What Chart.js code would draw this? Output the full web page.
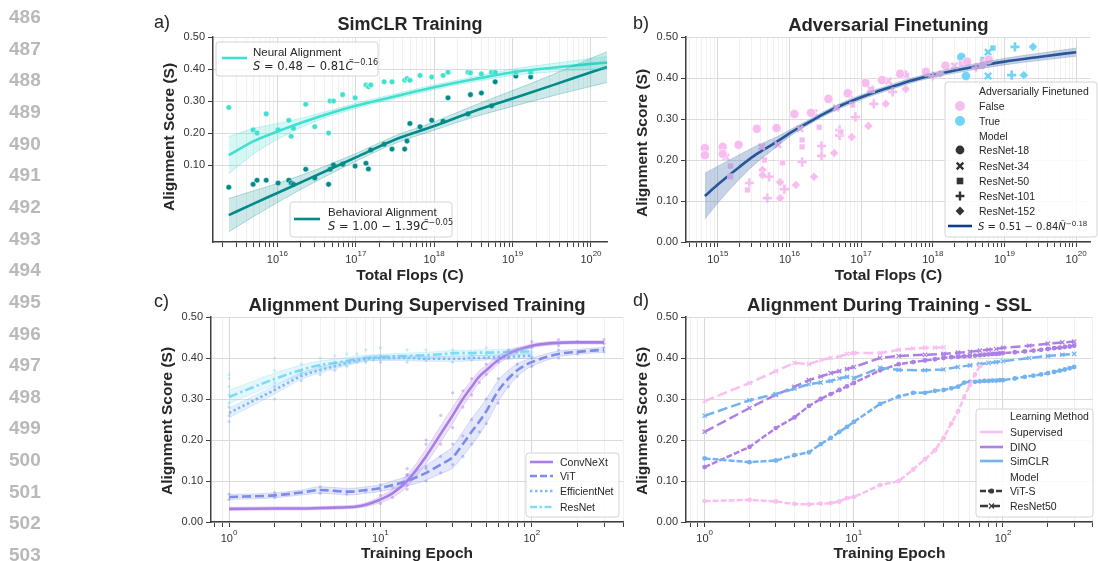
<!DOCTYPE html>
<html>
<head>
<meta charset="utf-8">
<script src="https://cdn.jsdelivr.net/npm/chart.js@4.4.1/dist/chart.umd.min.js"></script>
<style>
html, body { margin: 0; padding: 0; background: #fff; }
#page { position: relative; width: 1098px; height: 561px; overflow: hidden; }
#page canvas { position: absolute; left: 0; top: 0; }
.ln { position: absolute; left: 9px; font: bold 19px "Liberation Sans", Arial, sans-serif; color: #b9b9b9; line-height: 20px; }
</style>
</head>
<body>
<div id="page">
  <canvas id="chartA" width="1098" height="561"></canvas>
  <canvas id="chartB" width="1098" height="561"></canvas>
  <canvas id="chartC" width="1098" height="561"></canvas>
  <canvas id="chartD" width="1098" height="561"></canvas>
</div>
<script>
// ---------- a) SimCLR training: one point per model ----------
const simclrFlops = [2.4e15, 4.9e15, 5.5e15, 7.2e15, 1.02e16, 1.4e16, 1.5e16, 1.6e16, 2.3e16, 3.0e16, 4.5e16, 4.7e16, 5.2e16, 6.8e16, 9.8e16, 1.35e17, 1.45e17, 1.55e17, 2.3e17, 2.9e17, 4.2e17, 4.5e17, 4.9e17, 6.6e17, 9.3e17, 1.3e18, 1.5e18, 2.7e18, 2.9e18, 4.0e18, 5.4e18, 6.0e18, 1.1e19, 1.7e19];
const neuralScore = [0.28, 0.21, 0.20, 0.26, 0.21, 0.24, 0.19, 0.215, 0.29, 0.22, 0.20, 0.30, 0.30, 0.32, 0.31, 0.35, 0.345, 0.35, 0.36, 0.36, 0.365, 0.37, 0.365, 0.38, 0.375, 0.38, 0.39, 0.39, 0.388, 0.385, 0.39, 0.39, 0.39, 0.39];
const behavioralScore = [0.031, 0.04, 0.053, 0.053, 0.044, 0.053, 0.044, 0.04, 0.087, 0.06, 0.04, 0.087, 0.10, 0.103, 0.097, 0.106, 0.088, 0.147, 0.165, 0.15, 0.15, 0.175, 0.23, 0.22, 0.24, 0.237, 0.31, 0.26, 0.32, 0.325, 0.285, 0.36, 0.378, 0.375];
const fitFlopsA = [2.4e15, 5e15, 1e16, 2.5e16, 1e17, 3.2e17, 1e18, 3.2e18, 1e19, 3.2e19, 1e20, 1.6e20];
const neuralFit = [0.131, 0.175, 0.205, 0.24, 0.285, 0.315, 0.343, 0.368, 0.39, 0.404, 0.416, 0.42];
const neuralBand = [0.058, 0.04, 0.025, 0.012, 0.008, 0.008, 0.008, 0.008, 0.01, 0.013, 0.017, 0.019];
const behavioralFit = [-0.056, -0.02, 0.013, 0.057, 0.124, 0.18, 0.222, 0.268, 0.308, 0.349, 0.39, 0.406];
const behavioralBand = [0.052, 0.04, 0.03, 0.02, 0.012, 0.012, 0.013, 0.018, 0.025, 0.033, 0.044, 0.048];
const scoreTicksA = [0.1, 0.2, 0.3, 0.4, 0.5];
const powersA = [16, 17, 18, 19, 20];

// ---------- b) adversarial finetuning: [flops, score] per model ----------
const advModels = ['ResNet-18', 'ResNet-34', 'ResNet-50', 'ResNet-101', 'ResNet-152'];
const r18Plain = [[6.6e14, 0.229], [6.6e14, 0.212], [1.17e15, 0.232], [1.17e15, 0.215], [1.95e15, 0.237], [3.5e15, 0.276], [6.6e15, 0.278], [1.17e16, 0.312], [2.0e16, 0.315], [3.5e16, 0.349], [6.5e16, 0.363], [1.15e17, 0.388], [1.95e17, 0.395], [3.5e17, 0.41], [8e17, 0.415], [1.5e18, 0.43], [3e18, 0.44], [6e18, 0.445]];
const r34Plain = [[1.3e15, 0.207], [4.1e15, 0.232], [6.9e15, 0.237], [1.4e16, 0.276], [2.2e16, 0.315], [4.5e16, 0.327], [6.8e16, 0.361], [1.35e17, 0.373], [2.4e17, 0.393], [3.9e17, 0.41], [2e18, 0.43], [5e18, 0.44]];
const r50Plain = [[1.5e15, 0.185], [1.5e15, 0.159], [2.6e15, 0.127], [4.5e15, 0.20], [8e15, 0.193], [1.5e16, 0.249], [1.5e16, 0.232], [2.6e16, 0.28], [5.2e16, 0.268], [7.6e16, 0.334], [1.4e17, 0.371], [4.3e17, 0.407], [2.5e18, 0.435]];
const r101Plain = [[2.75e15, 0.144], [5.2e15, 0.159], [4.9e15, 0.107], [8.5e15, 0.129], [1.5e16, 0.195], [2.8e16, 0.234], [2.8e16, 0.21], [5e16, 0.273], [5e16, 0.26], [8.3e16, 0.305], [1.5e17, 0.337], [2.75e17, 0.366], [1e18, 0.405], [4e18, 0.425]];
const r152Plain = [[4.2e15, 0.176], [4.2e15, 0.163], [7.4e15, 0.146], [7.4e15, 0.107], [1.23e16, 0.139], [2.2e16, 0.159], [4.2e16, 0.217], [7.4e16, 0.256], [1.26e17, 0.283], [2.2e17, 0.337], [4.2e17, 0.373], [1.26e18, 0.41], [5e18, 0.43]];
const r18Adv = [[2.9e18, 0.405], [2.5e18, 0.451]];
const r34Adv = [[5.9e18, 0.405], [5.9e18, 0.463]];
const r50Adv = [[6.9e18, 0.473], [5e18, 0.445]];
const r101Adv = [[1.26e19, 0.407], [1.4e19, 0.476]];
const r152Adv = [[1.86e19, 0.407], [2.5e19, 0.476]];
const fitFlopsB = [6.6e14, 1e15, 2e15, 3.2e15, 6.6e15, 1e16, 1.9e16, 3.2e16, 5.4e16, 1e17, 1.6e17, 3.2e17, 4.6e17, 1e18, 3.2e18, 1e19, 3.2e19, 1e20];
const advFit = [0.112, 0.14, 0.183, 0.21, 0.244, 0.265, 0.293, 0.315, 0.334, 0.353, 0.366, 0.383, 0.392, 0.407, 0.425, 0.44, 0.452, 0.463];
const advBand = [0.056, 0.045, 0.03, 0.022, 0.012, 0.008, 0.006, 0.006, 0.006, 0.006, 0.006, 0.006, 0.006, 0.006, 0.007, 0.008, 0.009, 0.01];
const scoreTicks = [0, 0.1, 0.2, 0.3, 0.4, 0.5];
const powersB = [15, 16, 17, 18, 19, 20];

// ---------- c) supervised training curves ----------
const epochsC = [1, 2, 3, 4, 5, 6, 7, 8, 9, 10, 12, 15, 20, 25, 30, 35, 40, 45, 50, 60, 70, 80, 90, 100, 150, 200, 250, 300];
const epochsC100 = [1, 2, 3, 4, 5, 6, 7, 8, 9, 10, 12, 15, 20, 25, 30, 35, 40, 45, 50, 60, 70, 80, 90, 100];
const convnextMean = [0.032, 0.033, 0.033, 0.034, 0.035, 0.036, 0.038, 0.042, 0.048, 0.055, 0.07, 0.10, 0.16, 0.215, 0.26, 0.30, 0.33, 0.355, 0.37, 0.395, 0.41, 0.42, 0.425, 0.43, 0.437, 0.438, 0.438, 0.438];
const convnextBand = [0.004, 0.004, 0.004, 0.004, 0.004, 0.004, 0.004, 0.005, 0.006, 0.008, 0.01, 0.014, 0.018, 0.02, 0.02, 0.018, 0.016, 0.014, 0.012, 0.01, 0.008, 0.006, 0.005, 0.005, 0.004, 0.004, 0.004, 0.004];
const vitMean = [0.061, 0.065, 0.072, 0.078, 0.076, 0.074, 0.075, 0.078, 0.08, 0.083, 0.09, 0.10, 0.12, 0.14, 0.158, 0.19, 0.22, 0.245, 0.27, 0.32, 0.35, 0.37, 0.382, 0.39, 0.41, 0.415, 0.418, 0.42];
const vitBand = [0.006, 0.006, 0.006, 0.008, 0.008, 0.008, 0.008, 0.008, 0.008, 0.008, 0.01, 0.012, 0.018, 0.022, 0.026, 0.03, 0.032, 0.032, 0.03, 0.026, 0.02, 0.016, 0.012, 0.01, 0.007, 0.006, 0.006, 0.006];
const effnetMean = [0.266, 0.322, 0.356, 0.371, 0.38, 0.388, 0.394, 0.398, 0.40, 0.40, 0.40, 0.40, 0.398, 0.398, 0.398, 0.398, 0.40, 0.40, 0.401, 0.402, 0.403, 0.404, 0.405, 0.406];
const effnetBand = [0.012, 0.01, 0.008, 0.007, 0.007, 0.006, 0.006, 0.006, 0.006, 0.006, 0.006, 0.006, 0.006, 0.006, 0.006, 0.006, 0.006, 0.006, 0.006, 0.006, 0.006, 0.006, 0.006, 0.006];
const resnetMean = [0.305, 0.349, 0.371, 0.383, 0.388, 0.393, 0.397, 0.40, 0.401, 0.402, 0.404, 0.405, 0.407, 0.409, 0.412, 0.412, 0.412, 0.413, 0.413, 0.414, 0.415, 0.415, 0.416, 0.416];
const resnetBand = [0.016, 0.014, 0.012, 0.01, 0.009, 0.008, 0.008, 0.007, 0.007, 0.007, 0.007, 0.007, 0.007, 0.007, 0.007, 0.007, 0.007, 0.007, 0.007, 0.007, 0.007, 0.007, 0.007, 0.007];
// individual runs, [epoch, score]
const convnextRuns = [[10, 0.045], [10, 0.065], [12, 0.06], [12, 0.085], [15, 0.08], [15, 0.115], [15, 0.13], [20, 0.13], [20, 0.19], [20, 0.2], [25, 0.19], [25, 0.26], [30, 0.23], [30, 0.315], [35, 0.28], [35, 0.32], [40, 0.31], [40, 0.35], [45, 0.34], [50, 0.36], [50, 0.385], [60, 0.39], [70, 0.4], [70, 0.42], [80, 0.415], [100, 0.425], [100, 0.44], [150, 0.43], [150, 0.445], [200, 0.44], [300, 0.435], [300, 0.445]];
const vitRuns = [[1, 0.055], [1, 0.068], [2, 0.06], [2, 0.072], [4, 0.07], [4, 0.086], [6, 0.068], [8, 0.075], [10, 0.078], [10, 0.09], [15, 0.09], [15, 0.115], [20, 0.1], [20, 0.135], [25, 0.12], [25, 0.16], [30, 0.14], [30, 0.19], [35, 0.16], [35, 0.21], [40, 0.19], [40, 0.25], [45, 0.22], [50, 0.24], [50, 0.3], [60, 0.29], [60, 0.35], [70, 0.33], [80, 0.355], [80, 0.385], [100, 0.38], [100, 0.4], [150, 0.4], [150, 0.42], [200, 0.41], [300, 0.415], [300, 0.425]];
const effnetRuns = [[1, 0.245], [1, 0.26], [1, 0.28], [2, 0.30], [2, 0.33], [3, 0.345], [3, 0.365], [4, 0.36], [4, 0.38], [5, 0.37], [5, 0.39], [6, 0.38], [7, 0.39], [8, 0.39], [9, 0.395], [10, 0.39], [10, 0.405], [15, 0.39], [20, 0.395], [30, 0.39], [40, 0.395], [50, 0.4], [70, 0.4], [100, 0.405]];
const resnetRuns = [[1, 0.29], [1, 0.31], [1, 0.33], [1, 0.35], [1, 0.36], [2, 0.34], [2, 0.37], [2, 0.4], [3, 0.36], [3, 0.385], [4, 0.37], [4, 0.4], [5, 0.38], [5, 0.405], [6, 0.39], [6, 0.41], [7, 0.395], [7, 0.41], [8, 0.395], [8, 0.42], [9, 0.40], [10, 0.40], [10, 0.425], [15, 0.40], [15, 0.42], [20, 0.4], [20, 0.42], [30, 0.41], [30, 0.42], [40, 0.405], [50, 0.41], [50, 0.425], [70, 0.41], [100, 0.415]];
const powersEpoch = [0, 1, 2];

// ---------- d) self-supervised vs supervised ----------
const epochsR50 = [1, 2, 3, 4, 5, 6, 7, 8, 9, 10, 15, 20, 30, 40, 50, 60, 70, 80, 90, 100, 150, 200, 250, 300];
const epochsSupR50 = [1, 2, 3, 4, 5, 6, 7, 8, 9, 10, 15, 20, 25, 30, 35, 40];
const epochsVit = [1, 2, 3, 4, 5, 6, 7, 8, 9, 10, 15, 20, 25, 30, 35, 40, 45, 50, 55, 60, 65, 70, 75, 80, 85, 90, 95, 100, 120, 140, 160, 180, 200, 220, 240, 260, 280, 300];
const epochsSupVit = [1, 2, 3, 4, 5, 6, 7, 8, 9, 10, 15, 20, 25, 30, 35, 40, 45, 50, 55, 60, 65, 70];
const supervisedR50 = [0.295, 0.339, 0.368, 0.388, 0.385, 0.395, 0.40, 0.403, 0.41, 0.412, 0.412, 0.42, 0.423, 0.425, 0.425, 0.426];
const dinoR50 = [0.22, 0.278, 0.31, 0.33, 0.346, 0.355, 0.363, 0.368, 0.373, 0.378, 0.40, 0.405, 0.408, 0.41, 0.413, 0.415, 0.418, 0.42, 0.422, 0.425, 0.43, 0.435, 0.438, 0.44];
const simclrR50 = [0.259, 0.297, 0.312, 0.325, 0.336, 0.34, 0.344, 0.35, 0.354, 0.351, 0.376, 0.371, 0.37, 0.372, 0.378, 0.382, 0.385, 0.388, 0.39, 0.392, 0.40, 0.405, 0.408, 0.41];
const supervisedVit = [0.051, 0.054, 0.05, 0.044, 0.043, 0.045, 0.046, 0.05, 0.058, 0.061, 0.09, 0.10, 0.128, 0.153, 0.175, 0.205, 0.24, 0.27, 0.305, 0.334, 0.36, 0.38];
const dinoVit = [0.134, 0.183, 0.229, 0.255, 0.283, 0.30, 0.312, 0.322, 0.331, 0.339, 0.37, 0.385, 0.39, 0.394, 0.397, 0.40, 0.402, 0.403, 0.404, 0.405, 0.406, 0.407, 0.408, 0.409, 0.41, 0.41, 0.411, 0.412, 0.414, 0.416, 0.418, 0.42, 0.422, 0.424, 0.425, 0.427, 0.428, 0.43];
const simclrVit = [0.155, 0.146, 0.15, 0.163, 0.17, 0.19, 0.205, 0.22, 0.232, 0.244, 0.288, 0.306, 0.315, 0.315, 0.32, 0.322, 0.326, 0.33, 0.34, 0.342, 0.342, 0.343, 0.344, 0.344, 0.345, 0.345, 0.346, 0.346, 0.35, 0.354, 0.357, 0.36, 0.363, 0.366, 0.369, 0.372, 0.375, 0.378];

// ---------- styling ----------
const FONT = '"Liberation Sans", Arial, sans-serif';
const MATH = '"DejaVu Sans", sans-serif';
const INK = '#262626';
const TICK_INK = '#333';
const SPINE = '#3d3d3d';
const NEURAL = '#40e0d0';
const BEHAV = '#008b8b';
const PINK = '#f8bdef';
const SKY = '#6fd4f6';
const NAVY = '#0f3f8c';
const C_CONVNEXT = '#a87ee6';
const C_VIT = '#7b8ceb';
const C_EFF = '#80b9f8';
const C_RESNET = '#7edcf5';
const C_SUP = '#f9bfee';
const C_DINO = '#ad80e6';
const C_SIMCLR = '#73b3f1';

const xy = (xs, ys) => xs.map((x, i) => ({ x, y: ys[i] }));
const pts = arr => arr.map(([x, y]) => ({ x, y }));
const shifted = (xs, ys, hw, sign) => xs.map((x, i) => ({ x, y: ys[i] + sign * hw[i] }));

function alpha(hex, a) {
  const n = parseInt(hex.slice(1), 16);
  return `rgba(${n >> 16}, ${(n >> 8) & 255}, ${n & 255}, ${a})`;
}

function bandSets(xs, ys, hw, color, a) {
  const common = { borderColor: alpha(color, 0.35), borderWidth: 0.8, pointRadius: 0, cubicInterpolationMode: 'monotone' };
  return [
    { ...common, data: shifted(xs, ys, hw, -1), fill: false },
    { ...common, data: shifted(xs, ys, hw, 1), fill: '-1', backgroundColor: alpha(color, a) }
  ];
}

function logTicks(scale) {
  const ticks = [];
  const lo = Math.floor(Math.log10(scale.min));
  const hi = Math.ceil(Math.log10(scale.max));
  for (let e = lo; e <= hi; e++) {
    for (let m = 1; m < 10; m++) {
      const v = m * Math.pow(10, e);
      if (v >= scale.min && v <= scale.max) ticks.push({ value: v, major: m === 1 });
    }
  }
  scale.ticks = ticks;
}

function logAxis(min, max) {
  return {
    type: 'logarithmic', min, max,
    afterBuildTicks: logTicks,
    afterFit: s => { s.height = 30; s.paddingLeft = 0; s.paddingRight = 0; },
    ticks: { callback: () => '', autoSkip: false, maxRotation: 0 },
    grid: {
      color: c => (c.tick && c.tick.major ? '#d9d9d9' : '#eeeeee'),
      lineWidth: c => (c.tick && c.tick.major ? 1 : 0.8),
      tickColor: SPINE, tickLength: 5, tickWidth: 1
    },
    border: { color: SPINE, width: 1.5 }
  };
}

function scoreAxis(min, max, values) {
  return {
    type: 'linear', min, max,
    afterBuildTicks: s => { s.ticks = values.map(v => ({ value: v })); },
    afterFit: s => { s.width = 40; s.paddingTop = 0; s.paddingBottom = 0; },
    ticks: { callback: v => v.toFixed(2), color: TICK_INK, font: { family: FONT, size: 11 }, padding: 3 },
    grid: { color: '#dcdcdc', tickColor: SPINE, tickLength: 5 },
    border: { color: SPINE, width: 1.5 }
  };
}

function baseOptions(padding, x, y) {
  return {
    responsive: false, animation: false, devicePixelRatio: 1,
    layout: { padding },
    plugins: { legend: { display: false }, tooltip: { enabled: false } },
    elements: { point: { radius: 0 }, line: { tension: 0 } },
    scales: { x, y }
  };
}

// ---------- canvas text helpers ----------
function say(ctx, str, x, y, font, align, color) {
  ctx.font = font;
  ctx.fillStyle = color || INK;
  ctx.textAlign = align || 'left';
  ctx.textBaseline = 'alphabetic';
  ctx.fillText(str, x, y);
}

function yTitle(ctx, x, y, size) {
  ctx.save();
  ctx.translate(x, y);
  ctx.rotate(-Math.PI / 2);
  ctx.font = `bold ${size}px ${FONT}`;
  ctx.fillStyle = INK;
  ctx.textAlign = 'center';
  ctx.textBaseline = 'middle';
  ctx.fillText('Alignment Score (S)', 0, 0);
  ctx.restore();
}

function powerLabels(ctx, scale, powers, baseline) {
  powers.forEach(p => {
    const x = scale.getPixelForValue(Math.pow(10, p));
    ctx.font = `11px ${FONT}`;
    const w1 = ctx.measureText('10').width;
    ctx.font = `8px ${FONT}`;
    const w2 = ctx.measureText(String(p)).width;
    const left = x - (w1 + w2) / 2;
    say(ctx, '10', left, baseline, `11px ${FONT}`, 'left', TICK_INK);
    say(ctx, String(p), left + w1, baseline - 7, `8px ${FONT}`, 'left', TICK_INK);
  });
}

function mathLine(ctx, x, y, size, parts) {
  let cx = x;
  ctx.fillStyle = INK;
  ctx.textAlign = 'left';
  ctx.textBaseline = 'alphabetic';
  parts.forEach(([t, kind]) => {
    ctx.font = kind === 'i' ? `italic ${size}px ${MATH}` : kind === 's' ? `${size * 0.7}px ${MATH}` : `${size}px ${MATH}`;
    ctx.fillText(t, cx, kind === 's' ? y - size * 0.45 : y);
    cx += ctx.measureText(t).width;
  });
}

function legendBox(ctx, x, y, w, h) {
  ctx.save();
  ctx.beginPath();
  ctx.roundRect(x, y, w, h, 3);
  ctx.fillStyle = 'rgba(255,255,255,0.85)';
  ctx.fill();
  ctx.strokeStyle = '#d4d4d4';
  ctx.lineWidth = 1;
  ctx.stroke();
  ctx.restore();
}

function sampleLine(ctx, x1, x2, y, color, width, dash) {
  ctx.save();
  ctx.strokeStyle = color;
  ctx.lineWidth = width;
  ctx.setLineDash(dash || []);
  ctx.beginPath();
  ctx.moveTo(x1, y);
  ctx.lineTo(x2, y);
  ctx.stroke();
  ctx.restore();
}

function marker(ctx, style, x, y, r, color) {
  ctx.save();
  ctx.fillStyle = color;
  ctx.strokeStyle = color;
  ctx.lineWidth = 2.4;
  ctx.beginPath();
  if (style === 'circle') {
    ctx.arc(x, y, r, 0, Math.PI * 2);
    ctx.fill();
  } else if (style === 'rect') {
    ctx.fillRect(x - r * 0.75, y - r * 0.75, r * 1.5, r * 1.5);
  } else if (style === 'rectRot') {
    ctx.moveTo(x, y - r); ctx.lineTo(x + r, y); ctx.lineTo(x, y + r); ctx.lineTo(x - r, y);
    ctx.closePath();
    ctx.fill();
  } else if (style === 'cross') {
    ctx.moveTo(x - r, y); ctx.lineTo(x + r, y); ctx.moveTo(x, y - r); ctx.lineTo(x, y + r);
    ctx.stroke();
  } else if (style === 'crossRot') {
    const d = r * 0.75;
    ctx.moveTo(x - d, y - d); ctx.lineTo(x + d, y + d); ctx.moveTo(x + d, y - d); ctx.lineTo(x - d, y + d);
    ctx.stroke();
  }
  ctx.restore();
}

function centerX(chart) {
  return (chart.chartArea.left + chart.chartArea.right) / 2;
}

const fitLine = (xs, ys, color) => ({ data: xy(xs, ys), borderColor: color, borderWidth: 2.6, pointRadius: 0, cubicInterpolationMode: 'monotone' });

// ---------- a) ----------
new Chart(document.getElementById('chartA'), {
  type: 'line',
  data: {
    datasets: [
      ...bandSets(fitFlopsA, neuralFit, neuralBand, NEURAL, 0.22),
      ...bandSets(fitFlopsA, behavioralFit, behavioralBand, BEHAV, 0.2),
      fitLine(fitFlopsA, neuralFit, NEURAL),
      fitLine(fitFlopsA, behavioralFit, BEHAV),
      { data: xy(simclrFlops, neuralScore), showLine: false, pointRadius: 2.8, pointBackgroundColor: NEURAL, pointBorderColor: '#fff', pointBorderWidth: 0.5 },
      { data: xy(simclrFlops, behavioralScore), showLine: false, pointRadius: 2.8, pointBackgroundColor: BEHAV, pointBorderColor: '#fff', pointBorderWidth: 0.5 }
    ]
  },
  options: baseOptions({ left: 173, right: 491, top: 37, bottom: 289 }, logAxis(1.51e15, 1.6e20), scoreAxis(-0.14, 0.5, scoreTicksA)),
  plugins: [{
    id: 'decorA',
    afterDraw(chart) {
      const ctx = chart.ctx;
      ctx.save();
      say(ctx, 'a)', 154, 28, `18px ${FONT}`);
      say(ctx, 'SimCLR Training', centerX(chart), 30, `bold 18px ${FONT}`, 'center');
      yTitle(ctx, 170, 137, 15.5);
      say(ctx, 'Total Flops (C)', centerX(chart), 280, `bold 15.5px ${FONT}`, 'center');
      powerLabels(ctx, chart.scales.x, powersA, 263);

      legendBox(ctx, 216, 42, 162, 34);
      sampleLine(ctx, 222, 247, 58, NEURAL, 2.6);
      say(ctx, 'Neural Alignment', 253, 56, `11.5px ${FONT}`);
      mathLine(ctx, 253, 70, 11.5, [['S', 'i'], [' = 0.48 \u2212 0.81', 'r'], ['C\u0303', 'i'], ['\u22120.16', 's']]);

      legendBox(ctx, 290, 202, 162, 35);
      sampleLine(ctx, 294, 320, 219, BEHAV, 2.6);
      say(ctx, 'Behavioral Alignment', 328, 216, `11.5px ${FONT}`);
      mathLine(ctx, 328, 230, 11.5, [['S', 'i'], [' = 1.00 \u2212 1.39', 'r'], ['C\u0303', 'i'], ['\u22120.05', 's']]);
      ctx.restore();
    }
  }]
});

// ---------- b) ----------
const advStyles = ['circle', 'crossRot', 'rect', 'cross', 'rectRot'];
const plainRuns = [r18Plain, r34Plain, r50Plain, r101Plain, r152Plain];
const advRuns = [r18Adv, r34Adv, r50Adv, r101Adv, r152Adv];
const styleRadius = { circle: 4.6, crossRot: 4.4, rect: 4.2, cross: 4.6, rectRot: 4.6 };

function runSet(runs, style, color) {
  const stroked = style === 'cross' || style === 'crossRot';
  return {
    data: pts(runs), showLine: false, pointStyle: style, pointRadius: styleRadius[style],
    pointBackgroundColor: color,
    pointBorderColor: stroked ? color : '#fff',
    pointBorderWidth: stroked ? 2.6 : 0.6
  };
}

new Chart(document.getElementById('chartB'), {
  type: 'line',
  data: {
    datasets: [
      ...bandSets(fitFlopsB, advFit, advBand, '#5b7fb5', 0.35),
      ...plainRuns.map((r, i) => runSet(r, advStyles[i], PINK)),
      ...advRuns.map((r, i) => runSet(r, advStyles[i], SKY)),
      fitLine(fitFlopsB, advFit, NAVY)
    ]
  },
  options: baseOptions({ left: 646, right: 3, top: 37, bottom: 289 }, logAxis(3.6e14, 1.6e20), scoreAxis(0, 0.5, scoreTicks)),
  plugins: [{
    id: 'decorB',
    afterDraw(chart) {
      const ctx = chart.ctx;
      ctx.save();
      say(ctx, 'b)', 633, 29, `18px ${FONT}`);
      say(ctx, 'Adversarial Finetuning', centerX(chart), 31, `bold 18.5px ${FONT}`, 'center');
      yTitle(ctx, 643, 143, 15.5);
      say(ctx, 'Total Flops (C)', centerX(chart), 280, `bold 15.5px ${FONT}`, 'center');
      powerLabels(ctx, chart.scales.x, powersB, 263);

      legendBox(ctx, 945, 82, 152, 155);
      const f = `10.5px ${FONT}`;
      say(ctx, 'Adversarially Finetuned', 979, 95, f);
      marker(ctx, 'circle', 960, 106, 5, PINK);
      say(ctx, 'False', 979, 110, f);
      marker(ctx, 'circle', 960, 121, 5, SKY);
      say(ctx, 'True', 979, 125, f);
      say(ctx, 'Model', 979, 140, f);
      const rows = [150, 166, 181, 196, 211];
      advModels.forEach((m, i) => {
        marker(ctx, advStyles[i], 960, rows[i], 4.4, '#333');
        say(ctx, m, 979, rows[i] + 4, f);
      });
      sampleLine(ctx, 948, 972, 226, NAVY, 2.6);
      mathLine(ctx, 978, 230, 10, [['S', 'i'], [' = 0.51 \u2212 0.84', 'r'], ['\u00d1', 'i'], ['\u22120.18', 's']]);
      ctx.restore();
    }
  }]
});

// ---------- c) ----------
const runDots = (runs, color) => ({ data: pts(runs), showLine: false, pointRadius: 1.6, pointBackgroundColor: alpha(color, 0.45), pointBorderWidth: 0 });
const curve = (xs, ys, color, dash) => ({ data: xy(xs, ys), borderColor: color, borderWidth: 2.6, borderDash: dash, pointRadius: 0, cubicInterpolationMode: 'monotone' });

new Chart(document.getElementById('chartC'), {
  type: 'line',
  data: {
    datasets: [
      ...bandSets(epochsC, convnextMean, convnextBand, C_CONVNEXT, 0.22),
      ...bandSets(epochsC, vitMean, vitBand, C_VIT, 0.2),
      ...bandSets(epochsC100, effnetMean, effnetBand, C_EFF, 0.2),
      ...bandSets(epochsC100, resnetMean, resnetBand, C_RESNET, 0.22),
      runDots(convnextRuns, C_CONVNEXT),
      runDots(vitRuns, C_VIT),
      runDots(effnetRuns, C_EFF),
      runDots(resnetRuns, C_RESNET),
      curve(epochsC, convnextMean, C_CONVNEXT, []),
      curve(epochsC, vitMean, C_VIT, [9, 4]),
      curve(epochsC100, effnetMean, C_EFF, [2.5, 2.5]),
      curve(epochsC100, resnetMean, C_RESNET, [9, 3, 2.5, 3])
    ]
  },
  options: baseOptions({ left: 171, right: 475, top: 317, bottom: 9 }, logAxis(0.76, 400), scoreAxis(0, 0.5, scoreTicks)),
  plugins: [{
    id: 'decorC',
    afterDraw(chart) {
      const ctx = chart.ctx;
      ctx.save();
      say(ctx, 'c)', 154, 307, `18px ${FONT}`);
      say(ctx, 'Alignment During Supervised Training', centerX(chart), 311, `bold 18.5px ${FONT}`, 'center');
      yTitle(ctx, 168, 421, 15.5);
      say(ctx, 'Training Epoch', centerX(chart), 558, `bold 15.5px ${FONT}`, 'center');
      powerLabels(ctx, chart.scales.x, powersEpoch, 542);

      legendBox(ctx, 526, 453, 93, 64);
      const f = `10.5px ${FONT}`;
      const rows = [
        ['ConvNeXt', C_CONVNEXT, []],
        ['ViT', C_VIT, [7, 3]],
        ['EfficientNet', C_EFF, [2.5, 2.5]],
        ['ResNet', C_RESNET, [7, 2.5, 2.5, 2.5]]
      ];
      [462, 476, 491, 507].forEach((y, i) => {
        sampleLine(ctx, 530, 553, y, rows[i][1], 2.6, rows[i][2]);
        say(ctx, rows[i][0], 560, y + 4, f);
      });
      ctx.restore();
    }
  }]
});

// ---------- d) ----------
const vitCurve = (xs, ys, color) => ({ data: xy(xs, ys), borderColor: color, borderWidth: 2.5, borderDash: [6, 2], pointRadius: 2.4, pointStyle: 'circle', pointBackgroundColor: color, pointBorderWidth: 0 });
const r50Curve = (xs, ys, color) => ({ data: xy(xs, ys), borderColor: color, borderWidth: 2.5, borderDash: [10, 4], pointRadius: 3, pointStyle: 'crossRot', pointBorderColor: color, pointBorderWidth: 1.2 });

new Chart(document.getElementById('chartD'), {
  type: 'line',
  data: {
    datasets: [
      vitCurve(epochsSupVit, supervisedVit, C_SUP),
      r50Curve(epochsSupR50, supervisedR50, C_SUP),
      vitCurve(epochsVit, simclrVit, C_SIMCLR),
      r50Curve(epochsR50, simclrR50, C_SIMCLR),
      vitCurve(epochsVit, dinoVit, C_DINO),
      r50Curve(epochsR50, dinoR50, C_DINO)
    ]
  },
  options: baseOptions({ left: 646, right: 0, top: 317, bottom: 9 }, logAxis(0.75, 400), scoreAxis(0, 0.5, scoreTicks)),
  plugins: [{
    id: 'decorD',
    afterDraw(chart) {
      const ctx = chart.ctx;
      ctx.save();
      say(ctx, 'd)', 633, 306, `18px ${FONT}`);
      say(ctx, 'Alignment During Training - SSL', centerX(chart), 311, `bold 18.5px ${FONT}`, 'center');
      yTitle(ctx, 643, 421, 15.5);
      say(ctx, 'Training Epoch', centerX(chart), 558, `bold 15.5px ${FONT}`, 'center');
      powerLabels(ctx, chart.scales.x, powersEpoch, 542);

      legendBox(ctx, 976, 409, 117, 108);
      const f = `10.5px ${FONT}`;
      say(ctx, 'Learning Method', 1010, 420, f);
      [['Supervised', C_SUP, 432], ['DINO', C_DINO, 447], ['SimCLR', C_SIMCLR, 461]].forEach(([name, color, y]) => {
        sampleLine(ctx, 980, 1003, y, color, 2.6);
        say(ctx, name, 1010, y + 4, f);
      });
      say(ctx, 'Model', 1010, 481, f);
      sampleLine(ctx, 980, 1003, 491, '#3a3a3a', 2.5, [6, 2]);
      marker(ctx, 'circle', 991.5, 491, 2.6, '#3a3a3a');
      say(ctx, 'ViT-S', 1010, 495, f);
      sampleLine(ctx, 980, 1003, 506, '#3a3a3a', 2.5, [8, 4]);
      ctx.save();
      ctx.lineWidth = 1.2;
      ctx.strokeStyle = '#3a3a3a';
      ctx.beginPath();
      ctx.moveTo(989, 503.5); ctx.lineTo(994, 508.5); ctx.moveTo(994, 503.5); ctx.lineTo(989, 508.5);
      ctx.stroke();
      ctx.restore();
      say(ctx, 'ResNet50', 1010, 510, f);
      ctx.restore();
    }
  }]
});

// page line numbers in the margin
const lineNumbers = [486, 487, 488, 489, 490, 491, 492, 493, 494, 495, 496, 497, 498, 499, 500, 501, 502, 503];
const page = document.getElementById('page');
lineNumbers.forEach((n, i) => {
  const d = document.createElement('div');
  d.className = 'ln';
  d.textContent = n;
  d.style.top = (7 + i * 31.65) + 'px';
  page.appendChild(d);
});
</script>
</body>
</html>
